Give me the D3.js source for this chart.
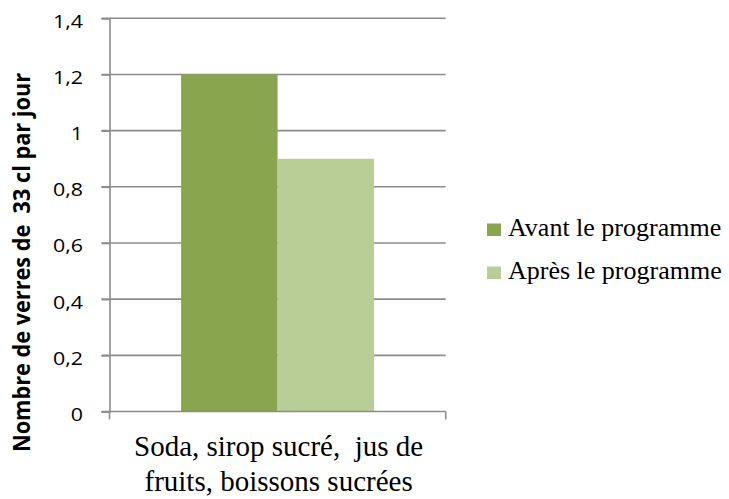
<!DOCTYPE html>
<html>
<head>
<meta charset="utf-8">
<script src="https://cdn.jsdelivr.net/npm/d3@7"></script>
<style>
  body { margin: 0; background: #fff; }
  svg { display: block; }
</style>
</head>
<body>
<div id="chart"></div>
<script>
"use strict";

// data
var categories = ["Soda, sirop sucré,  jus de|fruits, boissons sucrées"];
var seriesNames = ["Avant le programme", "Après le programme"];
var seriesValues = [[1.2], [0.9]];
var seriesColors = ["#89a54e", "#b9ce96"];
var yTicks = [0, 0.2, 0.4, 0.6, 0.8, 1, 1.2, 1.4];
var yTitle = "Nombre de verres de  33 cl par jour";

var width = 729, height = 499;
var m = { left: 109.5, right: 283.3, top: 18.3, bottom: 87.5 };
var grid = "#8c8c8c";
var SERIF = "'Liberation Serif', 'Times New Roman', Times, serif";
var SANS = "'Open Sans', 'Noto Sans', sans-serif";

var svg = d3.select("#chart").append("svg")
    .attr("width", width)
    .attr("height", height);

var y = d3.scaleLinear().domain([0, 1.4]).range([height - m.bottom, m.top]);
var x = d3.scaleBand().domain(categories)
    .range([m.left, width - m.right])
    .paddingInner(0).paddingOuter(0.371);
var xs = d3.scaleBand().domain(seriesNames).range([0, x.bandwidth()]);

var fmt = function (d) { return String(d).replace(".", ","); };

// gridlines
svg.append("g").selectAll("line")
    .data(yTicks.filter(function (d) { return d > 0; }))
    .join("line")
    .attr("x1", m.left - 8).attr("x2", width - m.right)
    .attr("y1", function (d) { return y(d); })
    .attr("y2", function (d) { return y(d); })
    .attr("stroke", grid)
    .attr("stroke-width", 1.6);

// bars
seriesNames.forEach(function (s, i) {
    svg.append("g").selectAll("rect")
        .data(categories.map(function (c, j) { return { c: c, v: seriesValues[i][j] }; }))
        .join("rect")
        .attr("x", function (d) { return x(d.c) + xs(s); })
        .attr("width", xs.bandwidth())
        .attr("y", function (d) { return y(d.v); })
        .attr("height", function (d) { return y(0) - y(d.v); })
        .attr("fill", seriesColors[i]);
});

// y axis
var yAxis = svg.append("g")
    .attr("transform", "translate(" + m.left + ",0)")
    .call(d3.axisLeft(y).tickValues(yTicks).tickFormat(fmt).tickSize(8).tickPadding(18));
yAxis.attr("font-family", null).attr("font-size", null);
yAxis.select(".domain").attr("stroke", grid).attr("stroke-width", 1.6);
yAxis.selectAll(".tick line").attr("stroke", grid).attr("stroke-width", 1.6);
var tickText = yAxis.selectAll(".tick text")
    .attr("dy", "0.5em")
    .attr("fill", "#000")
    .style("font-family", SANS)
    .style("font-size", "18px");
// "1,4" is about 30px wide in the picture
var w14 = tickText.filter(function (d) { return d === 1.4; }).node().getComputedTextLength();
var sx = 30 / w14;
tickText
    .attr("x", -26.5 / sx)
    .attr("transform", "scale(" + sx + ",1)");

// x axis
var xAxis = svg.append("g")
    .attr("transform", "translate(0," + y(0) + ")");
xAxis.append("line")
    .attr("x1", m.left - 8).attr("x2", width - m.right)
    .attr("stroke", grid).attr("stroke-width", 1.6);
xAxis.selectAll("line.edge")
    .data(x.range())
    .join("line")
    .attr("class", "edge")
    .attr("x1", function (d) { return d; }).attr("x2", function (d) { return d; })
    .attr("y1", 0).attr("y2", 8)
    .attr("stroke", grid).attr("stroke-width", 1.6);

categories.forEach(function (c) {
    c.split("|").forEach(function (line, k) {
        xAxis.append("text")
            .attr("x", x(c) + x.bandwidth() / 2 + 1)
            .attr("y", 44.8 + k * 34.4)
            .attr("text-anchor", "middle")
            .style("font-family", SERIF)
            .style("font-size", "29px")
            .style("white-space", "pre")
            .attr("fill", "#000")
            .text(line);
    });
});

// y title
svg.append("text")
    .attr("transform", "translate(30,262.5) rotate(-90)")
    .attr("text-anchor", "middle")
    .attr("textLength", 379)
    .attr("lengthAdjust", "spacingAndGlyphs")
    .style("font-family", SANS)
    .style("font-weight", "bold")
    .style("font-size", "23px")
    .style("white-space", "pre")
    .attr("fill", "#000")
    .text(yTitle);

// legend
var legend = svg.append("g").attr("transform", "translate(487,223.5)");
var li = legend.selectAll("g").data(seriesNames).join("g")
    .attr("transform", function (d, i) { return "translate(0," + i * 43 + ")"; });
li.append("rect")
    .attr("width", 14).attr("height", 12.5)
    .attr("fill", function (d, i) { return seriesColors[i]; });
li.append("text")
    .attr("x", 21).attr("y", 12.5)
    .style("font-family", SERIF)
    .style("font-size", "26px")
    .attr("fill", "#000")
    .text(function (d) { return d; });
</script>
</body>
</html>
